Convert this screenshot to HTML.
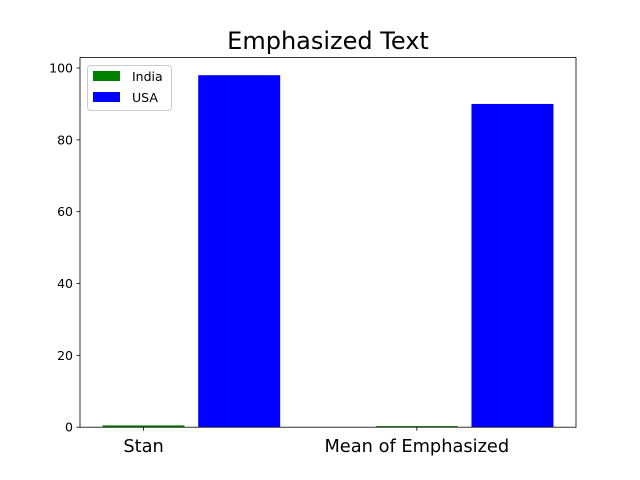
<!DOCTYPE html>
<html><head><meta charset="utf-8"><style>
body{margin:0;background:#fff}
svg{display:block;font-family:"DejaVu Sans","Liberation Sans",sans-serif}
</style></head><body>
<svg id="chart" width="640" height="480">
<text x="328" y="49" text-anchor="middle" font-size="24">Emphasized Text</text>
</svg>
<script>
const categories = ["Stan", "Mean of Emphasized"];
const indiaValues = [0.5, 0.3];
const usaValues = [98, 90];
const yTicks = [0, 20, 40, 60, 80, 100];
const seriesNames = ["India", "USA"];

const svg = document.getElementById('chart');
const NS = 'http://www.w3.org/2000/svg';
const L = 80, R = 576, T = 57.6, B = 427.2;
const barW = 0.3, off = 0.35;
const xmin = -barW/2, xmaxD = (categories.length-1) + off + barW/2;
const xm = (xmaxD - xmin) * 0.05;
const x0 = xmin - xm, x1 = xmaxD + xm;
const ymax = Math.max(...usaValues, ...indiaValues) * 1.05;
const xs = v => L + (v - x0) / (x1 - x0) * (R - L);
const ys = v => B - v / ymax * (B - T);
function el(tag, attrs, parent) {
  const e = document.createElementNS(NS, tag);
  for (const k in attrs) e.setAttribute(k, attrs[k]);
  (parent || svg).appendChild(e);
  return e;
}
categories.forEach((c, i) => {
  const a = el('rect', {x: xs(i - barW/2), y: ys(indiaValues[i]), width: xs(barW) - xs(0), height: B - ys(indiaValues[i]), fill: '#008000'});
  
  
  const b = el('rect', {x: xs(i + off - barW/2), y: ys(usaValues[i]), width: xs(barW) - xs(0), height: B - ys(usaValues[i]), fill: '#0000ff'});
  
  
  const tk = el('line', {x1: xs(i), x2: xs(i), y1: B, y2: B + 3.5, stroke: '#000', 'stroke-width': 0.8});
  
  
  const t = el('text', {x: xs(i), y: B + 25, 'text-anchor': 'middle', 'font-size': 17.8});
  t.textContent = c;
  
  
});
yTicks.forEach(v => {
  const tk = el('line', {x1: L - 3.5, x2: L, y1: ys(v), y2: ys(v), stroke: '#000', 'stroke-width': 0.8});
  
  
  const t = el('text', {x: L - 7, y: ys(v) + 4.5, 'text-anchor': 'end', 'font-size': 12.5});
  t.textContent = v;
  
  
});
const frame = el('rect', {x: L, y: T, width: R - L, height: B - T, fill: 'none', stroke: '#000', 'stroke-width': 0.8});


const lg = el('g', {});


el('rect', {x: 87.5, y: 65.5, width: 84, height: 45, rx: 3, fill: '#fff', stroke: '#ccc', 'stroke-width': 1}, lg);
const colors = ['#008000', '#0000ff'];
seriesNames.forEach((n, i) => {
  const sw = el('rect', {x: 93, y: 71 + i * 21, width: 27, height: 10, fill: colors[i]}, lg);
  
  
  const t = el('text', {x: 132, y: 81 + i * 21, 'font-size': 12.5}, lg);
  t.textContent = n;
  
  
});
</script>
</body></html>
